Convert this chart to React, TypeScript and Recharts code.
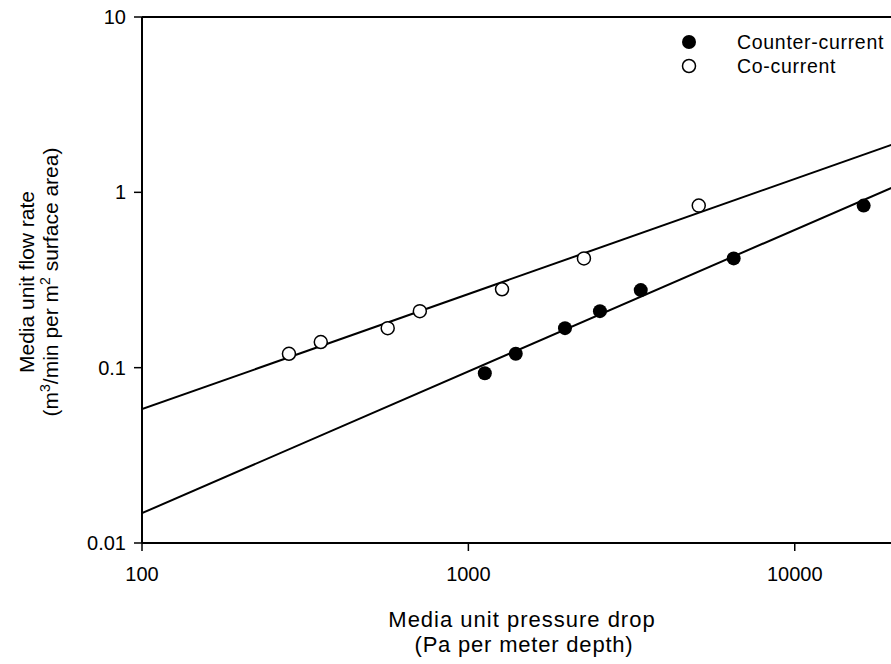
import React from "react";
import { ComposedChart, Scatter, XAxis, YAxis, ReferenceLine } from "recharts";

// measured points (Pa/m, m3/min per m2)
const counterX = [1123, 1397, 1977, 2530, 3374, 6500, 16260];
const counterY = [0.093, 0.12, 0.168, 0.21, 0.277, 0.42, 0.84];
const coX = [282, 353, 566, 710, 1268, 2260, 5080];
const coY = [0.12, 0.14, 0.168, 0.21, 0.28, 0.42, 0.84];

// regression line end points
const fitX = [100, 20000];
const counterFitY = [0.0148, 1.07];
const coFitY = [0.058, 1.88];

const xTicks = [100, 1000, 10000];
const yTicks = [0.01, 0.1, 1, 10];

const FONT = "'Liberation Sans', Arial, sans-serif";

const toPts = (xs: number[], ys: number[]) => xs.map((x, i) => ({ x, y: ys[i] }));

const counterData = toPts(counterX, counterY);
const coData = toPts(coX, coY);
const counterFit = toPts(fitX, counterFitY);
const coFit = toPts(fitX, coFitY);

const FilledDot = (p: any) => <circle cx={p.cx} cy={p.cy} r={7} fill="#000" />;
const OpenDot = (p: any) => (
  <circle cx={p.cx} cy={p.cy} r={6.5} fill="#fff" stroke="#000" strokeWidth={1.5} />
);
const NoDot = () => <g />;

export default function App() {
  const tick = { fontSize: 20, fill: "#000", fontFamily: FONT };
  return (
    <div
      style={{
        position: "absolute",
        left: 0,
        top: 0,
        width: 891,
        height: 664,
        overflow: "hidden",
        background: "#fff",
      }}
    >
      {/* plot runs to 20000, just past the right edge of the picture */}
      <ComposedChart width={893} height={664} margin={{ top: 17, right: 0, bottom: 91, left: 0 }}>
        <XAxis
          type="number"
          dataKey="x"
          scale="log"
          domain={[100, 20000]}
          allowDataOverflow
          ticks={xTicks}
          tickFormatter={(v) => String(v)}
          tick={tick}
          height={30}
          tickSize={8}
          tickMargin={16}
          axisLine={{ stroke: "#000", strokeWidth: 2 }}
          tickLine={{ stroke: "#000", strokeWidth: 1.5 }}
        />
        <YAxis
          type="number"
          dataKey="y"
          scale="log"
          domain={[0.01, 10]}
          allowDataOverflow
          ticks={yTicks}
          tickFormatter={(v) => String(v)}
          tick={tick}
          width={142}
          tickSize={8}
          tickMargin={8}
          axisLine={{ stroke: "#000", strokeWidth: 2 }}
          tickLine={{ stroke: "#000", strokeWidth: 1.5 }}
        />
        <ReferenceLine y={10} stroke="#000" strokeWidth={2} />
        <Scatter data={coFit} line={{ stroke: "#000", strokeWidth: 2 }} shape={NoDot} isAnimationActive={false} />
        <Scatter data={counterFit} line={{ stroke: "#000", strokeWidth: 2 }} shape={NoDot} isAnimationActive={false} />
        <Scatter name="Co-current" data={coData} shape={OpenDot} isAnimationActive={false} />
        <Scatter name="Counter-current" data={counterData} shape={FilledDot} isAnimationActive={false} />
      </ComposedChart>
      <svg
        width={891}
        height={664}
        style={{ position: "absolute", left: 0, top: 0, pointerEvents: "none" }}
        fontFamily={FONT}
      >
        <circle cx={689} cy={42} r={7} fill="#000" />
        <text x={737} y={49} fontSize={19.5} letterSpacing={0.7} fill="#000">Counter-current</text>
        <circle cx={689} cy={66} r={6.5} fill="#fff" stroke="#000" strokeWidth={1.5} />
        <text x={737} y={73} fontSize={19.5} letterSpacing={0.7} fill="#000">Co-current</text>

        <text x={522} y={627} fontSize={22} letterSpacing={1} textAnchor="middle" fill="#000">
          Media unit pressure drop
        </text>
        <text x={524} y={652} fontSize={22} letterSpacing={0.8} textAnchor="middle" fill="#000">
          (Pa per meter depth)
        </text>

        <text transform="translate(34,282) rotate(-90)" fontSize={21} textAnchor="middle" fill="#000">
          Media unit flow rate
        </text>
        <text transform="translate(58,282) rotate(-90)" fontSize={21} textAnchor="middle" fill="#000">
          (m<tspan fontSize={14} dy={-8}>3</tspan>
          <tspan dy={8}>/min per m</tspan>
          <tspan fontSize={14} dy={-8}>2</tspan>
          <tspan dy={8}> surface area)</tspan>
        </text>
      </svg>
    </div>
  );
}
